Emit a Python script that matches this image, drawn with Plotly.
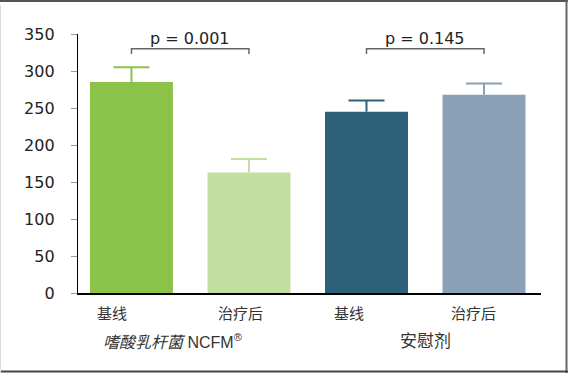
import plotly.graph_objects as go

# ---- data ----
categories = ["基线", "治疗后", "基线", "治疗后"]
values = [285, 163, 245, 268]
errors = [20, 18, 15, 15]
bar_colors = ["#8BC34A", "#C3DFA0", "#2D6079", "#8AA0B6"]
groups = ["<i>嗜酸乳杆菌</i> NCFM<sup>®</sup>", "安慰剂"]
group_members = [(0, 1), (2, 3)]
p_labels = ["p = 0.001", "p = 0.145"]
y_ticks = [0, 50, 100, 150, 200, 250, 300, 350]

# ---- layout geometry ----
W, H = 568, 373
ML, MR, MT, MB = 78, 27, 34, 80
PW, PH = W - ML - MR, H - MT - MB
X_RANGE = [-0.455, 3.485]
BAR_W = 0.706
CAP_HALF = 18 / (PW / (X_RANGE[1] - X_RANGE[0]))

def px_x(p):
    return (p - ML) / PW

def px_y(p):
    return (H - MB - p) / PH

fig = go.Figure()
for i, (v, e, c) in enumerate(zip(values, errors, bar_colors)):
    fig.add_trace(go.Bar(
        x=[i], y=[v], width=BAR_W, marker=dict(color=c, line=dict(width=0)),
        showlegend=False, hoverinfo="skip"))
    fig.add_trace(go.Scatter(
        x=[i, i, None, i - CAP_HALF, i + CAP_HALF],
        y=[v, v + e, None, v + e, v + e],
        mode="lines", line=dict(color=c, width=2), showlegend=False,
        hoverinfo="skip", cliponaxis=False))

BRACKET_Y = 330
TICK_DROP = 7
shapes = []
annotations = []
for (a, b), p in zip(group_members, p_labels):
    shapes.append(dict(type="path", xref="x", yref="y",
                       path=f"M {a},{BRACKET_Y - TICK_DROP} L {a},{BRACKET_Y} L {b},{BRACKET_Y} L {b},{BRACKET_Y - TICK_DROP}",
                       line=dict(color="#666666", width=1.5)))
    annotations.append(dict(x=(a + b) / 2, y=BRACKET_Y, xref="x", yref="y",
                            text=p, showarrow=False, yanchor="middle", yshift=10,
                            font=dict(family="DejaVu Sans", size=16, color="#222222")))

cat_shift = [-19, -8, -17, -11]
for i, (cat, s) in enumerate(zip(categories, cat_shift)):
    annotations.append(dict(x=i, y=0, xref="x", yref="paper", text=cat,
                            showarrow=False, yanchor="middle", yshift=-19, xshift=s,
                            font=dict(family="Noto Sans CJK SC", size=15, color="#333333")))

group_shift = [-17, 0]
group_size = [16, 17]
for (a, b), g, s, fs in zip(group_members, groups, group_shift, group_size):
    annotations.append(dict(x=(a + b) / 2, y=0, xref="x", yref="paper", text=g,
                            showarrow=False, yanchor="middle", yshift=-48, xshift=s,
                            font=dict(family="Liberation Sans, Noto Sans CJK SC", size=fs, color="#333333")))

# frame lines around the image
shapes += [
    dict(type="line", xref="paper", yref="paper", x0=px_x(0), x1=px_x(W), y0=px_y(1), y1=px_y(1),
         line=dict(color="#555555", width=2)),
    dict(type="line", xref="paper", yref="paper", x0=px_x(566.5), x1=px_x(566.5), y0=px_y(0), y1=px_y(H),
         line=dict(color="#666666", width=2)),
    dict(type="line", xref="paper", yref="paper", x0=px_x(0), x1=px_x(W), y0=px_y(371.5), y1=px_y(371.5),
         line=dict(color="#444444", width=2)),
    dict(type="line", xref="paper", yref="paper", x0=px_x(0.5), x1=px_x(0.5), y0=px_y(5), y1=px_y(H),
         line=dict(color="#dddddd", width=1)),
]

fig.update_layout(
    width=W, height=H, margin=dict(l=ML, r=MR, t=MT, b=MB),
    paper_bgcolor="white", plot_bgcolor="white", barmode="overlay",
    shapes=shapes, annotations=annotations,
    xaxis=dict(range=X_RANGE, showticklabels=False, ticks="", showgrid=False,
               zeroline=False, showline=True, linecolor="black", linewidth=1.5, fixedrange=True),
    yaxis=dict(range=[0, 350], tickvals=y_ticks, ticks="outside", ticklen=6, tickcolor="#999999",
               tickwidth=1, showgrid=False, zeroline=False, showline=True, linecolor="black",
               linewidth=1.3, ticklabelstandoff=13,
               tickfont=dict(family="DejaVu Sans", size=16, color="#222222"), fixedrange=True),
)

fig.write_html("out.html", config={"displayModeBar": False},
               post_script="document.body.style.margin='0';document.body.style.overflow='hidden';")
